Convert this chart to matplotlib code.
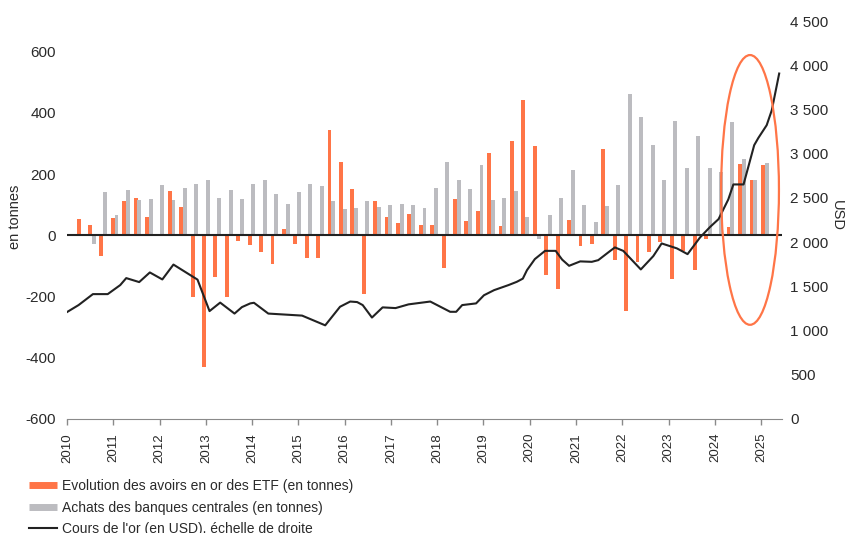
import numpy as np
import matplotlib
matplotlib.use('Agg')
import matplotlib.pyplot as plt
from matplotlib.lines import Line2D
from matplotlib.patches import Ellipse

plt.rcParams['font.family'] = ['Liberation Sans Narrow', 'Liberation Sans', 'DejaVu Sans']
plt.rcParams['axes.unicode_minus'] = False

# flux trimestriels (en tonnes), T1 2010 -> T1 2025
etf = [52, 33, -69, 56, 111, 121, 59, 0, 144, 91, -202, -431, -137, -202, -18, -33,
       -55, -95, 20, -29, -75, -75, 343, 238, 150, -193, 111, 59, 39, 69, 33, 33,
       -107, 118, 46, 78, 268, 29, 307, 441, 291, -131, -176, 49, -36, -29, 281, -82,
       -247, -88, -56, -23, -144, -52, -114, -13, 0, 26, 232, 180, 229]
banques = [0, -30, 140, 65, 147, 114, 118, 163, 114, 154, 166, 180, 121, 147, 118, 166,
           180, 134, 101, 140, 166, 160, 111, 85, 88, 111, 91, 98, 101, 98, 88, 153,
           238, 180, 150, 229, 114, 121, 144, 59, -13, 65, 121, 212, 98, 42, 95, 163,
           460, 385, 294, 180, 372, 219, 323, 219, 206, 369, 248, 180, 235]

# cours de l'or (USD)
prix_t = [2010.00, 2010.25, 2010.56, 2010.88, 2011.15, 2011.28, 2011.56, 2011.79, 2012.06,
          2012.30, 2012.82, 2013.08, 2013.31, 2013.62, 2013.78, 2013.96, 2014.04, 2014.35,
          2015.08, 2015.58, 2015.90, 2016.12, 2016.27, 2016.39, 2016.59, 2016.82, 2017.10,
          2017.38, 2017.85, 2018.28, 2018.41, 2018.54, 2018.84, 2019.01, 2019.23, 2019.54,
          2019.72, 2019.85, 2019.94, 2020.11, 2020.33, 2020.56, 2020.70, 2020.85, 2021.09,
          2021.34, 2021.48, 2021.74, 2021.84, 2022.02, 2022.40, 2022.67, 2022.85, 2023.18,
          2023.41, 2023.68, 2023.90, 2024.08, 2024.29, 2024.40, 2024.62, 2024.85, 2024.94,
          2025.12, 2025.23, 2025.39]
prix = [1209, 1288, 1412, 1412, 1514, 1593, 1548, 1657, 1578, 1746, 1576, 1220, 1316, 1192,
        1265, 1307, 1314, 1192, 1169, 1059, 1269, 1328, 1322, 1288, 1147, 1262, 1254, 1296,
        1328, 1212, 1212, 1288, 1307, 1399, 1457, 1514, 1551, 1587, 1683, 1808, 1901, 1901,
        1802, 1732, 1782, 1777, 1796, 1901, 1940, 1901, 1691, 1842, 1985, 1929, 1864, 2053,
        2173, 2260, 2482, 2652, 2652, 3096, 3178, 3322, 3491, 3906]

annees = list(range(2010, 2026))

orange = '#FF7547'
gris = '#BCBCC0'
txt = '#2a2a2a'

fig = plt.figure(figsize=(8.46, 5.33), dpi=100)
ax = fig.add_axes([0.0792, 0.2139, 0.8451, 0.7467])
ax2 = ax.twinx()

x = 2010.25 + np.arange(len(etf)) * 0.2465
w = 0.085
ax.bar(x, etf, width=w, color=orange, zorder=2)
ax.bar(x + 0.08, banques, width=w, color=gris, zorder=2)
ax.axhline(0, color='#222222', lw=1.5, zorder=3)

ax2.plot(prix_t, prix, color='#222222', lw=1.5, zorder=4)
ax2.add_patch(Ellipse((2024.76, 2590), 1.25, 3050, fill=False, edgecolor=orange, lw=1.6, zorder=5))

ax.set_xlim(2010, 2025.45)
ax.set_ylim(-600, 700)
ax.set_yticks(range(-600, 601, 200))
ax2.set_ylim(0, 4500)
ax2.set_yticks(range(0, 4501, 500))
ax2.set_yticklabels(['0'] + ['{:,}'.format(v).replace(',', ' ') for v in range(500, 4501, 500)])
ax.set_xticks(annees)
ax.set_xticklabels([str(a) for a in annees], rotation=90)

for a in (ax, ax2):
    for s in ('top', 'left', 'right', 'bottom'):
        a.spines[s].set_visible(False)
ax.spines['bottom'].set_visible(True)
ax.spines['bottom'].set_color('#8a8a8a')
ax.tick_params(axis='x', colors='#8a8a8a', length=4, width=1, pad=6, labelcolor=txt, labelsize=9.5)
ax.tick_params(axis='y', length=0, pad=8, labelcolor=txt, labelsize=11)
ax2.tick_params(axis='y', length=0, pad=6, labelcolor=txt, labelsize=11)

fig.text(15 / 846, 1 - 217 / 533, 'en tonnes', rotation=90, ha='center', va='center', fontsize=10.5, color=txt)
fig.text(837 / 846, 1 - 216 / 533, 'USD', rotation=270, ha='center', va='center', fontsize=10.5, color=txt)

handles = [Line2D([], [], color=orange, lw=5, solid_capstyle='butt'),
           Line2D([], [], color=gris, lw=5, solid_capstyle='butt'),
           Line2D([], [], color='#222222', lw=1.5)]
labels = ['Evolution des avoirs en or des ETF (en tonnes)',
          'Achats des banques centrales (en tonnes)',
          "Cours de l'or (en USD), échelle de droite"]
fig.legend(handles, labels, loc='upper left', bbox_to_anchor=(29 / 846, 1 - 479 / 533),
           frameon=False, borderpad=0, borderaxespad=0, handlelength=2.0, handletextpad=0.35,
           labelspacing=0.55, fontsize=10, labelcolor=txt)

fig.savefig('out.png', dpi=100)
